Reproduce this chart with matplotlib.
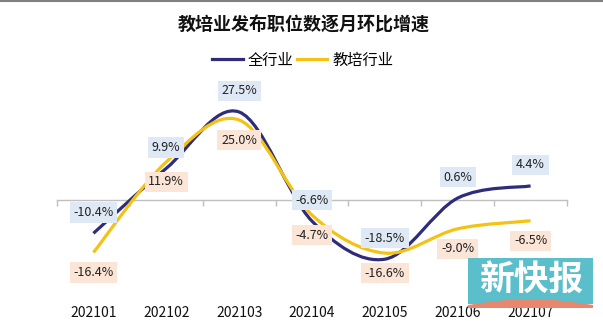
import numpy as np
import matplotlib
matplotlib.use('Agg')
import matplotlib.pyplot as plt
from matplotlib.path import Path
from matplotlib.patches import PathPatch, Rectangle, Polygon
from matplotlib.lines import Line2D

plt.rcParams['font.family'] = ['Noto Sans CJK SC', 'DejaVu Sans']

months = ['202101', '202102', '202103', '202104', '202105', '202106', '202107']
all_industry = [-10.4, 9.9, 27.5, -6.6, -18.5, 0.6, 4.4]
edu_training = [-16.4, 11.9, 25.0, -4.7, -16.6, -9.0, -6.5]
series_names = ['全行业', '教培行业']
title = '教培业发布职位数逐月环比增速'

BLUE = '#2f2c79'
GOLD = '#f3c213'
W, H = 603, 332


def px(x, y):
    # pixel position (from top-left) -> figure fraction
    return x / W, 1 - y / H


def smooth_path(xs, ys):
    # smoothed line as cubic Bezier segments, tangent = 1/6 of the neighbour chord
    pts = np.column_stack([np.asarray(xs, float), np.asarray(ys, float)])
    n = len(pts)
    verts = [pts[0]]
    codes = [Path.MOVETO]
    for i in range(n - 1):
        p0 = pts[max(i - 1, 0)]
        p1 = pts[i]
        p2 = pts[i + 1]
        p3 = pts[min(i + 2, n - 1)]
        verts += [p1 + (p2 - p0) / 6, p2 - (p3 - p1) / 6, p2]
        codes += [Path.CURVE4] * 3
    return Path(np.array(verts), codes)


fig = plt.figure(figsize=(W / 100, H / 100), dpi=100)
ax = fig.add_axes([57 / W, 42 / H, 510 / W, 210 / H])
ax.set_xlim(-0.5, 6.5)
ax.set_ylim(-28.125, 37.5)

for s in ['left', 'right', 'top']:
    ax.spines[s].set_visible(False)
ax.spines['bottom'].set_position(('data', 0))
ax.spines['bottom'].set_color('#bfbfbf')
ax.spines['bottom'].set_linewidth(1)
ax.set_yticks([])
ax.set_xticks(np.arange(-0.5, 7, 1))
ax.tick_params(axis='x', length=4, width=1, color='#bfbfbf', labelbottom=False)

x = np.arange(len(months))
for vals, col, z in [(all_industry, BLUE, 3), (edu_training, GOLD, 4)]:
    ax.add_patch(PathPatch(smooth_path(x, vals), fill=False, edgecolor=col,
                           linewidth=2.3, capstyle='butt', zorder=z))

for i, m in enumerate(months):
    ax.text(i, -0.11, m, transform=ax.get_xaxis_transform(), ha='center',
            va='center', fontsize=10, color='#111111')

# data labels: blue series above its point, gold series below
for vals, dy, bg in [(all_industry, 21, '#dfe9f5'), (edu_training, -20, '#fbe5d6')]:
    for i, v in enumerate(vals):
        ax.annotate(f'{v:.1f}%', (i, v), xytext=(0, dy), textcoords='offset pixels',
                    ha='center', va='center', fontsize=9, color='#222222', zorder=6,
                    bbox=dict(boxstyle='square,pad=0.3', fc=bg, ec='none'))

fig.text(*px(304, 25), title, ha='center', va='center', fontsize=13,
         fontweight='bold', color='#111111')

handles = [Line2D([], [], color=BLUE, lw=2.3), Line2D([], [], color=GOLD, lw=2.3)]
fig.legend(handles, series_names, loc='center', bbox_to_anchor=px(303, 60), ncol=2,
           frameon=False, fontsize=11, handlelength=2.0, handletextpad=0.35,
           columnspacing=0.2, borderpad=0)

# top border
fig.add_artist(Line2D([0, 1], [1 - 1 / H, 1 - 1 / H], transform=fig.transFigure,
                      color='#808080', lw=1.5))

# newspaper watermark
x0, y0 = px(468, 304)
x1, y1 = px(593, 258)
fig.add_artist(Rectangle((x0, y0), x1 - x0, y1 - y0, transform=fig.transFigure,
                         fc='#5bbfcb', ec='none', zorder=10))
arc_x = np.linspace(468, 593, 30)
arc_top = 305 - 6 * np.sin(np.linspace(0, np.pi, 30))
arc = [px(a, b) for a, b in zip(arc_x, arc_top)] + [px(593, 308), px(468, 308)]
fig.add_artist(Polygon(arc, closed=True, transform=fig.transFigure,
                       fc='#e8876c', ec='none', zorder=11))
fig.text(*px(531, 279), '新快报', ha='center', va='center', fontsize=25,
         fontweight='bold', color='white', zorder=12)

fig.savefig('out.png', dpi=100)
